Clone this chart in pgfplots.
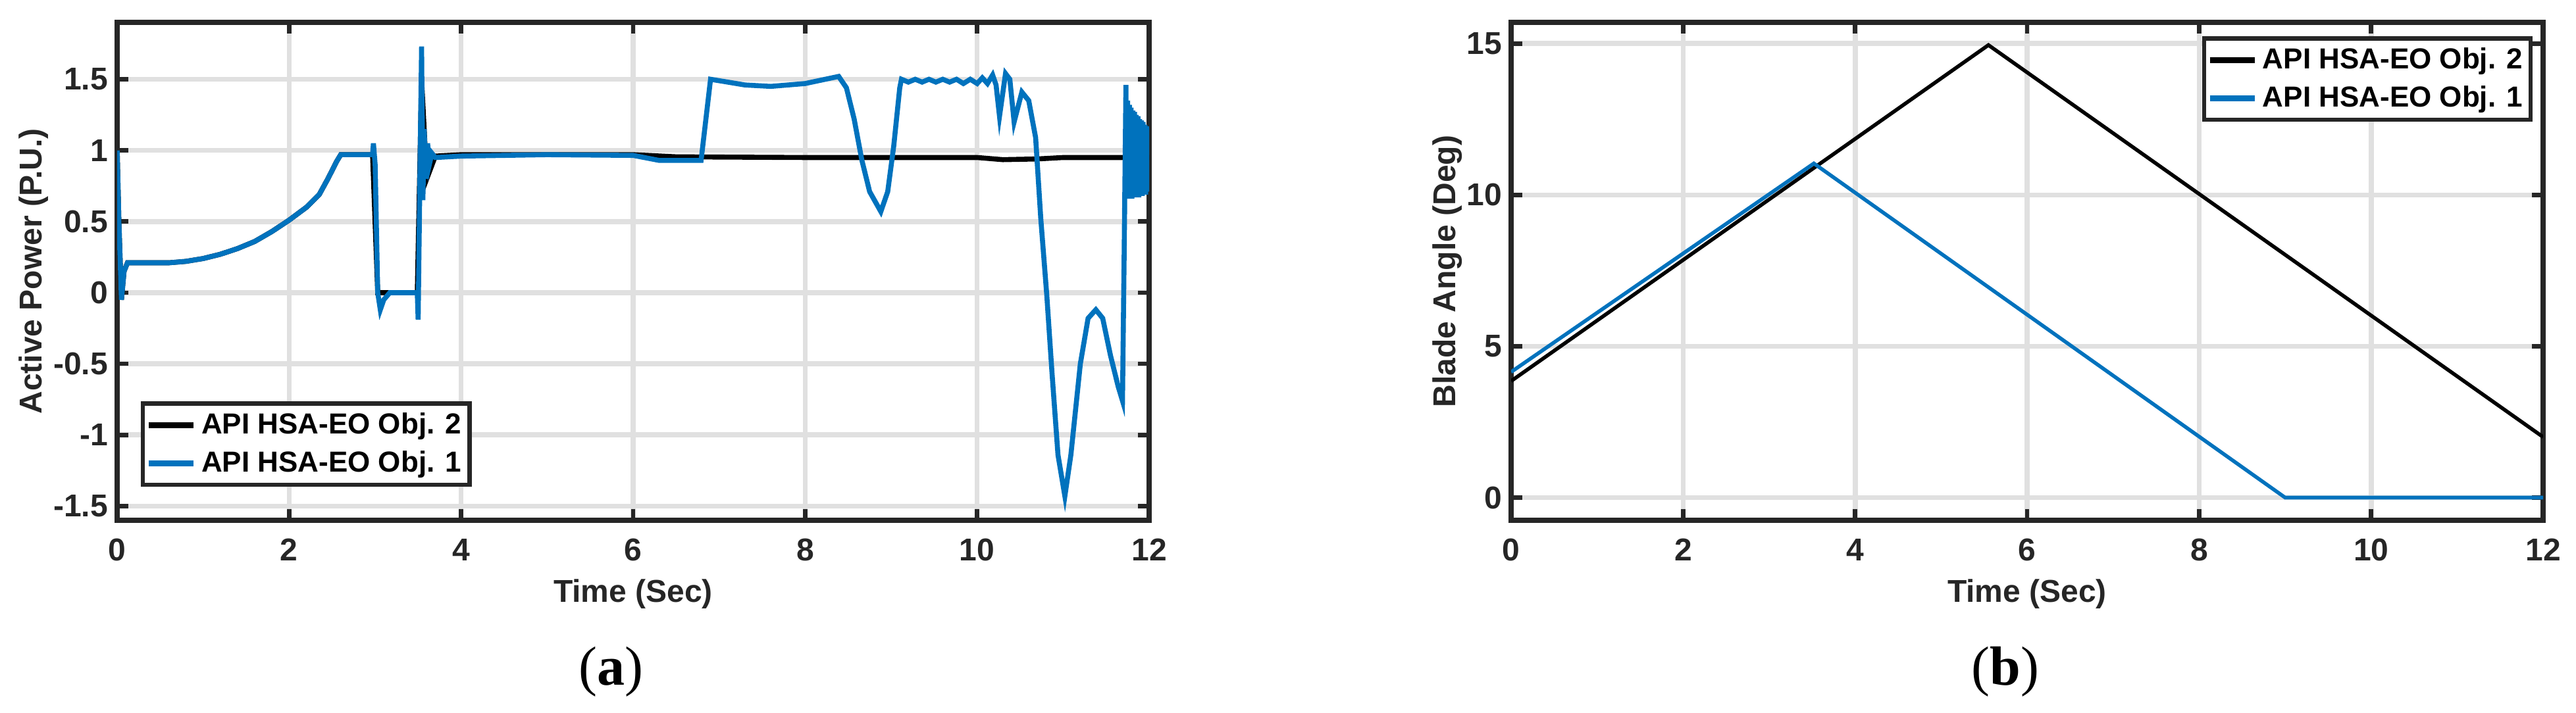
\documentclass[border=0pt]{standalone}
\usepackage{fontspec}
\setmainfont{Liberation Sans}
\newfontfamily\capfont{Liberation Serif}
\usepackage{pgfplots}
\pgfplotsset{compat=1.18}

\definecolor{mblue}{HTML}{0072BD}
\definecolor{maxis}{HTML}{262626}

\pgfplotsset{
  matfig/.style={
    scale only axis, width=392pt, height=189.25pt,
    xmin=0, xmax=12, xtick={0,2,...,12},
    grid=major,
    major grid style={line width=1.9pt, color=black!12},
    axis line style={line width=1.8pt, color=maxis},
    every tick/.style={line width=1.7pt, color=maxis},
    major tick length=4.3pt,
    tick align=inside,
    /pgf/number format/assume math mode=true,
    tick label style={font=\bfseries\fontsize{12}{14}\selectfont, color=maxis},
    xticklabel style={yshift=-3.5pt},
    label style={font=\bfseries\fontsize{12}{14}\selectfont, color=maxis},
    xlabel={Time (Sec)},
    xlabel style={at={(axis description cs:0.5,-0.148)}, anchor=center},
    legend cell align=left,
    legend image post style={line width=2.2pt},
    legend style={draw=maxis, line width=1.6pt, font=\bfseries\fontsize{11}{13}\selectfont,
      inner xsep=1pt, inner ysep=1.5pt, row sep=1pt},
    legend image code/.code={\draw[##1] (0pt,0pt) -- (17pt,0pt);},
  }
}

\begin{document}
\begin{tikzpicture}
\useasboundingbox (0,0) rectangle (978.5pt,270.75pt);

% (a) active power
\begin{axis}[matfig, at={(44.5pt,73pt)}, anchor=south west,
  ymin=-1.6, ymax=1.9, ytick={-1.5,-1,...,1.5},
  ylabel={Active Power (P.U.)},
  ylabel style={at={(axis description cs:-0.081,0.5)}, anchor=center, rotate=0},
  legend style={at={(0.023,0.067)}, anchor=south west}]
\addplot[black, line width=1.9pt] coordinates {
(0,1.0)(0.02,0.5)(0.05,-0.05)(0.08,0.15)(0.12,0.21)(0.6,0.21)(0.8,0.22)(1.0,0.24)
(1.2,0.27)(1.4,0.31)(1.6,0.36)(1.8,0.43)(2.0,0.51)(2.2,0.60)(2.35,0.69)(2.45,0.8)
(2.55,0.92)(2.6,0.97)(2.97,0.97)(3.03,0.0)(3.49,0.0)(3.54,1.5)
(3.6,0.8)(3.7,0.96)(4,0.97)(6,0.97)(6.5,0.955)(8,0.95)(10,0.95)(10.3,0.935)
(10.7,0.94)(11,0.95)(12,0.95)};
\addlegendentry{API HSA-EO Obj. 2}
\addplot[mblue, line width=1.9pt] coordinates {
(0,1.0)(0.02,0.5)(0.05,-0.05)(0.08,0.15)(0.12,0.21)(0.6,0.21)(0.8,0.22)(1.0,0.24)
(1.2,0.27)(1.4,0.31)(1.6,0.36)(1.8,0.43)(2.0,0.51)(2.2,0.60)(2.35,0.69)(2.45,0.8)
(2.55,0.92)(2.6,0.97)(2.97,0.97)(2.98,1.05)(3.0,0.9)(3.03,0.0)(3.06,-0.12)(3.1,-0.05)
(3.17,0.0)(3.49,0.0)(3.5,-0.19)(3.52,0.8)(3.54,1.73)(3.555,0.65)(3.57,1.15)(3.59,0.8)
(3.61,1.05)(3.63,0.9)(3.66,0.98)(3.7,0.95)(4,0.96)(5,0.97)(6,0.965)(6.3,0.93)
(6.79,0.93)(6.9,1.5)(7.3,1.46)(7.6,1.45)(8.0,1.47)(8.39,1.52)(8.48,1.44)(8.57,1.22)
(8.66,0.93)(8.75,0.71)(8.88,0.57)(8.96,0.71)(9.03,1.03)(9.10,1.44)(9.12,1.5)(9.2,1.48)
(9.28,1.5)(9.36,1.48)(9.44,1.5)(9.52,1.48)(9.6,1.5)(9.68,1.48)(9.76,1.5)(9.84,1.47)
(9.92,1.5)(10.0,1.47)(10.06,1.51)(10.12,1.47)(10.18,1.53)(10.22,1.46)(10.26,1.24)
(10.33,1.54)(10.38,1.50)(10.43,1.20)(10.52,1.41)(10.6,1.35)(10.68,1.09)(10.74,0.52)
(10.81,-0.02)(10.87,-0.56)(10.94,-1.14)(11.02,-1.43)(11.09,-1.14)(11.2,-0.5)
(11.29,-0.18)(11.38,-0.12)(11.46,-0.18)(11.55,-0.44)(11.64,-0.66)(11.69,-0.76)
(11.71,0.3)(11.73,1.46)(11.74,0.70)(11.75,1.35)(11.76,0.66)(11.77,1.32)(11.78,0.67)
(11.79,1.30)(11.80,0.66)(11.81,1.28)(11.82,0.68)(11.83,1.27)(11.84,0.67)(11.85,1.25)
(11.86,0.68)(11.87,1.24)(11.88,0.67)(11.89,1.22)(11.90,0.69)(11.91,1.21)(11.92,0.68)
(11.93,1.20)(11.94,0.70)(11.95,1.18)(11.96,0.69)(11.97,1.17)(11.98,0.71)(11.99,1.16)
(12.0,0.72)};
\addlegendentry{API HSA-EO Obj. 1}
\end{axis}

% (b) blade angle
\begin{axis}[matfig, at={(574pt,73pt)}, anchor=south west,
  ymin=-0.75, ymax=15.7, ytick={0,5,10,15},
  ylabel={Blade Angle (Deg)},
  ylabel style={at={(axis description cs:-0.062,0.5)}, anchor=center, rotate=0},
  legend style={at={(0.99,0.972)}, anchor=north east}]
\addplot[black, line width=1.4pt] coordinates {(0,3.85)(5.55,14.95)(12,2.0)};
\addlegendentry{API HSA-EO Obj. 2}
\addplot[mblue, line width=1.4pt] coordinates {(0,4.15)(3.52,11.04)(9.0,0)(12,0)};
\addlegendentry{API HSA-EO Obj. 1}
\end{axis}

\node[font=\capfont\fontsize{21}{24}\selectfont] at (232pt,15.5pt) {(\textbf{a})};
\node[font=\capfont\fontsize{21}{24}\selectfont] at (761.75pt,15.5pt) {(\textbf{b})};
\end{tikzpicture}
\end{document}
